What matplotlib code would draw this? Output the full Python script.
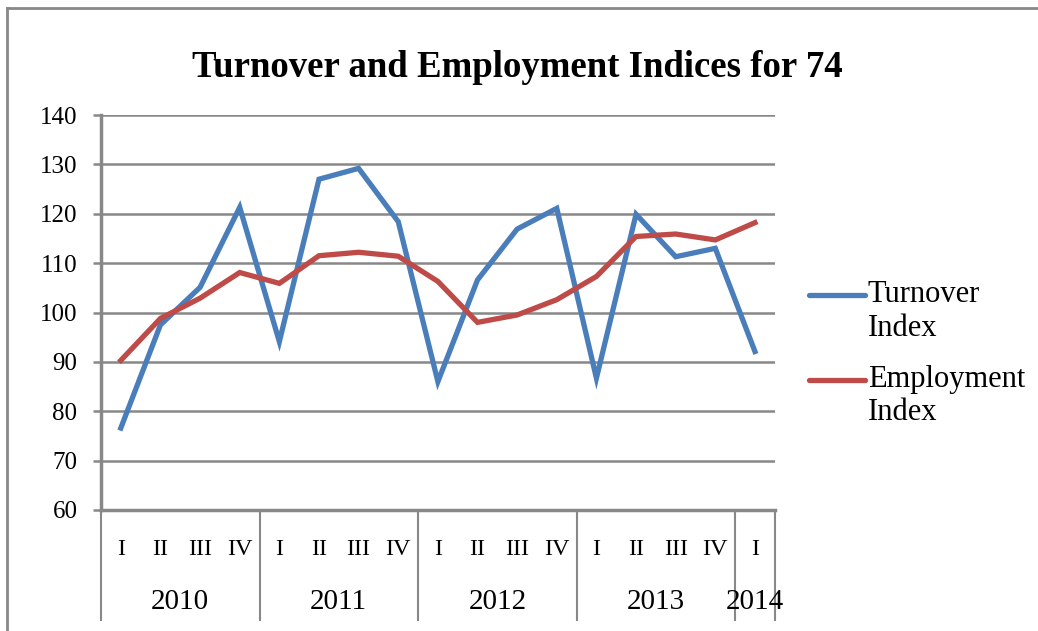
import numpy as np
import matplotlib.pyplot as plt
from matplotlib.lines import Line2D

quarters = ["I", "II", "III", "IV"] * 4 + ["I"]
years = ["2010", "2011", "2012", "2013", "2014"]
year_len = [4, 4, 4, 4, 1]
turnover = [76.6, 97.5, 105.1, 121.3, 94.1, 127.0, 129.2, 118.4,
            86.0, 106.6, 116.9, 121.1, 86.7, 119.9, 111.3, 113.0, 92.1]
employment = [90.3, 98.8, 102.9, 108.1, 105.9, 111.5, 112.2, 111.4,
              106.3, 98.0, 99.5, 102.6, 107.3, 115.4, 115.9, 114.7, 118.2]
series_names = ["Turnover\nIndex", "Employment\nIndex"]
colors = ["#4A7EBB", "#BE4B48"]

plt.rcParams['font.family'] = ['Liberation Serif', 'DejaVu Serif']
grey = "#888888"

fig = plt.figure(figsize=(10.38, 6.31), dpi=100)
ax = fig.add_axes([0.0973, 0.1918, 0.7464 - 0.0973, 0.8177 - 0.1918])

x = np.arange(len(quarters))
ax.plot(x, turnover, color=colors[0], lw=3.8, solid_joinstyle='miter', clip_on=False)
ax.plot(x, employment, color=colors[1], lw=3.8, solid_joinstyle='miter', clip_on=False)

ax.set_xlim(-0.5, len(quarters) - 0.5)
ax.set_ylim(60, 140)
ax.set_yticks(np.arange(60, 141, 10))
ax.yaxis.grid(True, color=grey, lw=1.8)
ax.set_axisbelow(True)
ax.tick_params(axis='y', length=6, width=1.8, color=grey, labelsize=18, pad=11)

# quarter labels
ax.set_xticks(x)
ax.set_xticklabels(quarters, fontsize=17.5)
ax.tick_params(axis='x', length=0, pad=21)

# year group separators and labels
bounds = np.concatenate([[0], np.cumsum(year_len)]) - 0.5
ax.set_xticks(bounds, minor=True)
ax.tick_params(axis='x', which='minor', length=80, width=1.5, color=grey)
for i, yr in enumerate(years):
    mid = (bounds[i] + bounds[i + 1]) / 2
    ax.text(mid, -0.233, yr, transform=ax.get_xaxis_transform(),
            ha='center', va='center', fontsize=21)

for s in ['top', 'right']:
    ax.spines[s].set_visible(False)
ax.spines['left'].set_color(grey)
ax.spines['left'].set_linewidth(2.5)
ax.spines['bottom'].set_color(grey)
ax.spines['bottom'].set_linewidth(2.5)

fig.text(0.498, 0.893, "Turnover and Employment Indices for 74",
         ha='center', va='center', fontsize=26.5, fontweight='bold')

# legend
for name, c, yl, yt in zip(series_names, colors, [0.532, 0.398], [0.556, 0.422]):
    fig.add_artist(Line2D([0.779, 0.833], [yl, yl], color=c, lw=3.8,
                          solid_capstyle='round'))
    fig.text(0.836, yt, name, ha='left', va='top', fontsize=22,
             linespacing=1.2)

# outer chart border
fig.add_artist(Line2D([0.007, 0.007], [0, 0.987], color=grey, lw=2))
fig.add_artist(Line2D([0.007, 1.0], [0.987, 0.987], color=grey, lw=2))

fig.savefig("out.png", dpi=100)
